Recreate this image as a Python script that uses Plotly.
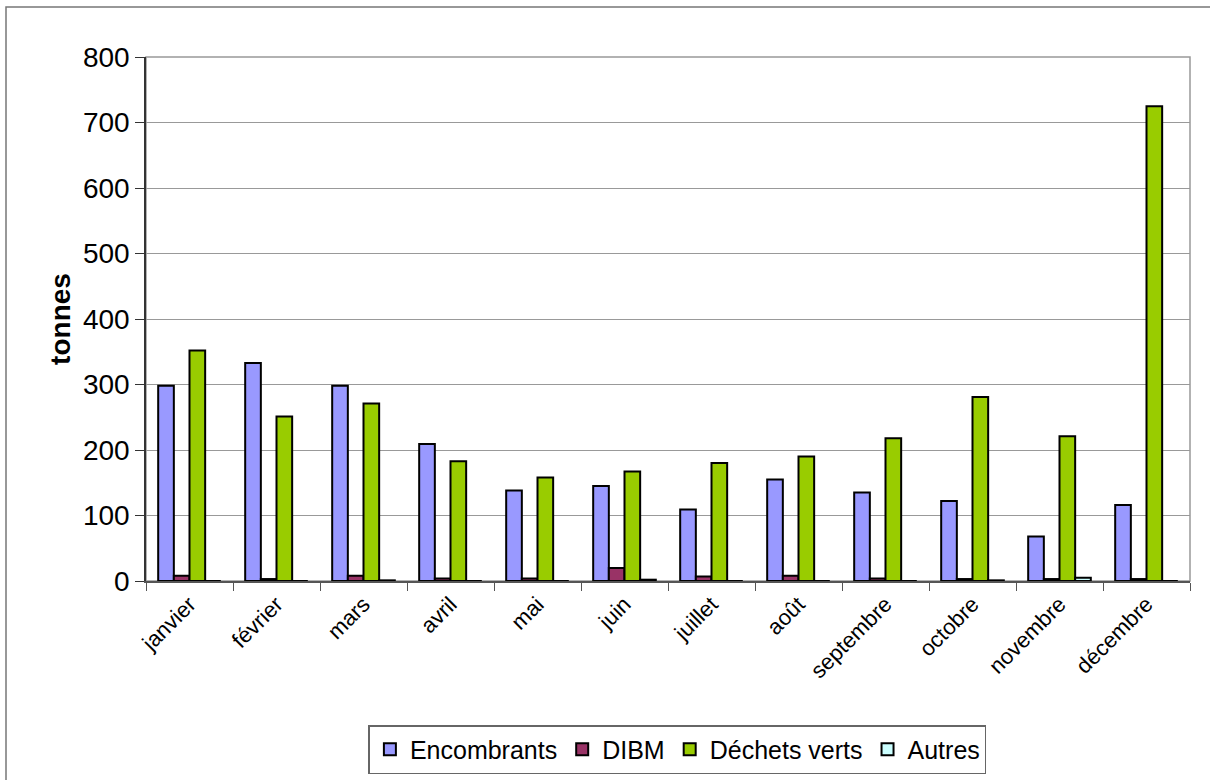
import plotly.graph_objects as go

months = ["janvier", "février", "mars", "avril", "mai", "juin", "juillet",
          "août", "septembre", "octobre", "novembre", "décembre"]
encombrants = [298, 333, 298, 209, 138, 145, 109, 155, 135, 122, 68, 116]
dibm = [8, 3, 8, 4, 4, 20, 7, 8, 4, 3, 3, 3]
dechets_verts = [352, 251, 271, 183, 158, 167, 180, 190, 218, 281, 221, 725]
autres = [0, 0, 1, 0, 0, 2, 0, 0, 0, 1, 5, 0]

series = [
    ("Encombrants", encombrants, "#9999FF"),
    ("DIBM", dibm, "#993366"),
    ("Déchets verts", dechets_verts, "#99CC00"),
    ("Autres", autres, "#CCFFFF"),
]

fig = go.Figure()
for name, vals, col in series:
    fig.add_trace(go.Bar(
        x=months, y=vals, name=name,
        marker=dict(color=col, line=dict(color="black", width=2)),
    ))

font = "Liberation Sans, Arial, sans-serif"
fig.update_layout(
    width=1210, height=780,
    margin=dict(l=146, r=20, t=57, b=199, autoexpand=False),
    paper_bgcolor="white", plot_bgcolor="white",
    barmode="group", bargap=0.28, bargroupgap=0,
    font=dict(family=font, color="black"),
    showlegend=True,
    legend=dict(
        orientation="h", x=0.509, xanchor="center", y=-0.275, yanchor="top",
        font=dict(size=25, family=font), bordercolor="#666666", borderwidth=1.5,
        itemwidth=30, itemsizing="constant", tracegroupgap=0,
    ),
    xaxis=dict(
        type="category", tickangle=-45, tickfont=dict(size=22, family=font),
        ticks="outside", tickson="boundaries", ticklen=8, tickcolor="#555555",
        showline=True, linecolor="#555555", linewidth=1.5,
        showgrid=False, automargin=False,
    ),
    yaxis=dict(
        range=[0, 800], dtick=100, tickfont=dict(size=28, family=font),
        ticks="outside", ticklen=9, tickcolor="#333333",
        showline=True, linecolor="#333333", linewidth=1.5,
        showgrid=True, gridcolor="#999999", gridwidth=1.2,
        title=dict(text="<b>tonnes</b>", font=dict(size=28, family=font), standoff=4),
        zeroline=False, automargin=False,
    ),
    shapes=[
        dict(type="rect", xref="paper", yref="paper", x0=0, x1=1, y0=0, y1=1,
             line=dict(color="#999999", width=1.5), layer="below"),
        dict(type="rect", xref="paper", yref="paper",
             x0=(6 - 146) / 1044, x1=(1240 - 146) / 1044,
             y0=(581 - 800) / 524, y1=(581 - 7) / 524,
             line=dict(color="#777777", width=1.5), layer="below"),
    ],
)

fig.write_html("out.html")
